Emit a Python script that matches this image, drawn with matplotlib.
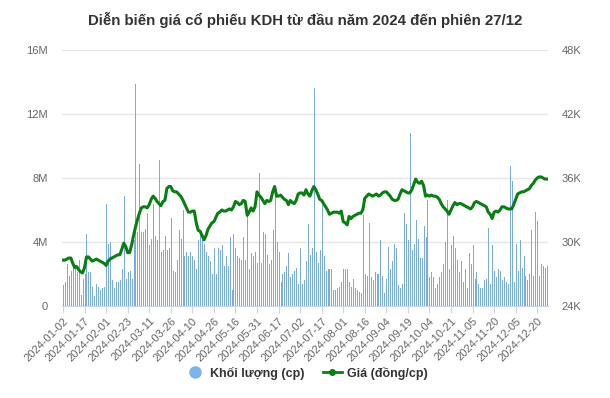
import matplotlib
matplotlib.use("Agg")
import matplotlib.pyplot as plt
from matplotlib.lines import Line2D
import pandas as pd
import numpy as np

plt.rcParams['font.family'] = ['Liberation Sans', 'DejaVu Sans']

title = "Diễn biến giá cổ phiếu KDH từ đầu năm 2024 đến phiên 27/12"

holidays = ["2024-01-01", "2024-02-08", "2024-02-09", "2024-02-12", "2024-02-13",
            "2024-02-14", "2024-04-18", "2024-04-29", "2024-04-30", "2024-05-01",
            "2024-09-02", "2024-09-03"]
dates = [d.strftime("%Y-%m-%d") for d in pd.bdate_range("2024-01-02", "2024-12-27")
         if d.strftime("%Y-%m-%d") not in holidays]

# Volume (million shares)
volume_m = [
    1.3, 1.5, 2.6, 1.9, 2.2, 2.5, 2.3, 2.1, 2.9, 0.7,
    1.7, 2.0, 4.5, 2.1, 2.1, 1.2, 0.6, 1.4, 1.2, 1.0,
    1.1, 1.2, 6.4, 3.9, 4.0, 1.6, 1.1, 1.5, 1.5, 1.6,
    2.3, 6.9, 1.7, 2.1, 2.2, 1.7, 4.1, 13.9, 4.6, 8.9,
    4.6, 4.6, 4.8, 5.8, 3.8, 4.2, 6.4, 4.4, 4.1, 9.1,
    3.4, 3.5, 4.4, 3.5, 3.6, 5.5, 2.2, 2.1, 2.9, 4.75,
    4.2, 6.0, 3.1, 3.4, 3.1, 3.4, 3.1, 2.9, 2.3, 4.1,
    4.6, 4.1, 3.9, 3.4, 3.1, 2.8, 2.0, 3.6, 2.0, 3.6,
    3.5, 3.8, 2.5, 3.1, 2.5, 4.3, 1.0, 4.5, 3.6, 3.1,
    3.0, 2.9, 4.3, 2.9, 5.7, 2.3, 3.3, 3.1, 3.4, 2.7,
    8.3, 2.7, 4.6, 4.5, 3.2, 2.6, 2.9, 4.75, 7.5, 4.0,
    3.4, 1.5, 2.0, 2.1, 2.5, 3.3, 1.8, 2.0, 2.2, 2.4,
    1.4, 3.6, 1.4, 1.6, 2.8, 5.1, 3.2, 3.6, 13.6, 3.4,
    2.7, 3.5, 6.3, 3.1, 2.2, 2.3, 2.3, 2.3, 1.0, 1.0,
    1.1, 1.2, 1.5, 2.3, 2.3, 2.3, 1.5, 1.2, 1.7, 1.1,
    1.0, 0.9, 0.8, 5.7, 2.0, 1.9, 5.2, 1.8, 1.6, 2.1,
    2.0, 2.0, 4.1, 1.9, 0.8, 1.7, 3.7, 2.3, 2.8, 3.9,
    3.6, 1.3, 1.1, 1.4, 5.8, 5.1, 4.1, 10.8, 3.5, 3.9,
    5.4, 4.2, 3.0, 3.0, 5.0, 4.3, 6.6, 1.8, 2.1, 1.8,
    1.1, 1.4, 1.8, 2.1, 2.6, 4.0, 6.6, 2.3, 3.8, 4.4,
    3.6, 2.9, 2.1, 2.8, 1.5, 2.3, 1.1, 3.3, 2.6, 3.8,
    1.7, 2.1, 1.4, 1.1, 1.1, 1.6, 1.7, 4.9, 1.4, 3.8,
    2.2, 1.8, 2.3, 2.2, 1.6, 1.8, 1.5, 1.4, 8.75, 7.8,
    1.5, 3.9, 2.2, 4.1, 2.4, 3.1, 1.9, 1.6, 2.0, 4.75,
    1.9, 5.9, 5.3, 1.9, 2.6, 2.5, 2.4, 2.5,
]

# Price (thousand VND)
price_k = [
    28.3, 28.3, 28.4, 28.5, 28.5, 28.0, 27.6, 27.7, 27.4, 27.2,
    27.1, 27.6, 28.6, 28.6, 28.4, 28.2, 28.3, 28.4, 28.3, 28.2,
    28.1, 28.0, 27.8, 28.2, 28.4, 28.5, 28.6, 28.7, 28.8, 28.8,
    29.3, 29.9, 29.6, 29.0, 29.0, 29.7, 30.6, 31.4, 32.1, 32.7,
    33.2, 33.3, 33.3, 33.2, 33.5, 34.0, 34.3, 34.1, 33.8, 33.6,
    33.4, 33.8, 33.9, 35.0, 35.2, 35.2, 34.8, 34.7, 34.7, 34.5,
    34.3, 34.0, 33.6, 33.2, 32.8, 32.8, 32.9, 32.9, 31.8, 31.1,
    31.0, 30.6, 30.2, 30.6, 31.2, 31.5, 31.8, 31.9, 32.3, 32.7,
    32.8, 33.0, 32.9, 32.9, 33.0, 33.1, 33.0, 33.3, 33.8, 33.7,
    33.5, 33.6, 33.9, 33.8, 32.5, 32.8, 33.2, 32.9, 33.3, 34.7,
    34.4, 34.2, 33.9, 33.6, 33.9, 33.8, 33.9, 34.7, 35.2, 34.3,
    34.3, 34.4, 34.2, 34.0, 33.9, 33.5, 33.9, 33.7, 33.6, 33.9,
    34.5, 34.6, 34.6, 34.4, 34.9, 34.5, 34.3, 34.8, 35.2, 34.9,
    34.5, 34.0, 33.9, 33.6, 33.3, 33.0, 32.6, 32.7, 32.8, 32.8,
    32.8, 32.7, 32.9, 31.9, 31.8, 31.6, 32.4, 32.2, 32.4, 32.5,
    32.6, 32.7, 32.7, 33.0, 34.1, 34.3, 34.5, 34.4, 34.3, 34.4,
    34.5, 34.3, 34.4, 34.6, 34.7, 34.7, 34.5, 34.3, 34.0, 33.9,
    33.9, 34.0, 34.5, 34.9, 34.8, 34.7, 34.6, 34.6, 34.9, 35.4,
    35.9, 35.6, 35.5, 35.7, 35.3, 34.3, 34.4, 34.3, 34.4, 34.3,
    34.3, 34.2, 34.0, 33.6, 33.3, 33.1, 32.9, 32.6, 33.0, 33.4,
    33.7, 33.5, 33.6, 33.6, 33.5, 33.4, 33.3, 33.2, 33.1, 33.3,
    33.7, 33.8, 33.7, 33.6, 33.5, 33.4, 33.3, 32.8, 32.6, 32.2,
    32.8, 32.9, 32.8, 33.0, 33.3, 33.3, 33.2, 33.1, 33.1, 33.1,
    33.5, 34.0, 34.5, 34.6, 34.7, 34.7, 34.8, 34.9, 35.0, 35.3,
    35.5, 35.8, 36.0, 36.1, 36.1, 36.0, 35.9, 35.9,
]

n = min(len(dates), len(volume_m), len(price_k))
dates = dates[:n]
volume_m = volume_m[:n]
price_k = price_k[:n]

left_ticks = [0, 4, 8, 12, 16]
left_labels = ["0", "4M", "8M", "12M", "16M"]
right_ticks = [24, 30, 36, 42, 48]
right_labels = ["24K", "30K", "36K", "42K", "48K"]

W, H = 610, 398
fig = plt.figure(figsize=(W / 100, H / 100), dpi=100)
ax = fig.add_axes([62 / W, (H - 306) / H, (548 - 62) / W, 256 / H])
ax2 = ax.twinx()

x = np.arange(n)
ax.vlines(x, 0, volume_m, colors="#7aabdc", linewidth=0.72, zorder=2,
          antialiased=False)
ax2.plot(x, price_k, color="#0a7d14", linewidth=2.2, zorder=3,
         solid_joinstyle="round")

ax.set_xlim(-0.5, n - 0.5)
ax.set_ylim(0, 16)
ax2.set_ylim(24, 48)

ax.set_yticks(left_ticks)
ax.set_yticklabels(left_labels)
ax2.set_yticks(right_ticks)
ax2.set_yticklabels(right_labels)
for a in (ax, ax2):
    a.tick_params(axis="y", length=0, labelsize=8, labelcolor="#666666")
ax.tick_params(axis="y", pad=10)
ax2.tick_params(axis="y", pad=10)

ax.grid(axis="y", color="#e6e6e6", linewidth=1, zorder=0)
ax.set_axisbelow(True)
ax2.set_zorder(ax.get_zorder() + 1)
ax2.patch.set_visible(False)

tick_pos = list(range(0, n, 11))
ax.set_xticks(tick_pos)
ax.set_xticklabels([dates[i] for i in tick_pos], rotation=45, ha="right",
                   rotation_mode="anchor", fontsize=8, color="#666666")
ax.tick_params(axis="x", length=5, color="#ccd6eb", pad=2)

for a in (ax, ax2):
    for s in a.spines.values():
        s.set_visible(False)
ax.spines["bottom"].set_visible(True)
ax.spines["bottom"].set_color("#ccd6eb")

fig.text(0.5, 1 - 20 / H, title, ha="center", va="center", fontsize=10.8,
         fontweight="bold", color="#333333")

handles = [
    Line2D([], [], marker="o", linestyle="none", markersize=8,
           markerfacecolor="#7cb5ec", markeredgecolor="#7cb5ec"),
    Line2D([], [], color="#0a7d14", linewidth=2, marker="o", markersize=4),
]
leg = fig.legend(handles, ["Khối lượng (cp)", "Giá (đồng/cp)"], loc="center",
                 bbox_to_anchor=(0.503, 1 - 373 / H), ncol=2, frameon=False,
                 fontsize=9, handlelength=1.5, handletextpad=0.4, columnspacing=1.5)
for t in leg.get_texts():
    t.set_color("#333333")
    t.set_fontweight("bold")

fig.savefig("out.png", dpi=100)
